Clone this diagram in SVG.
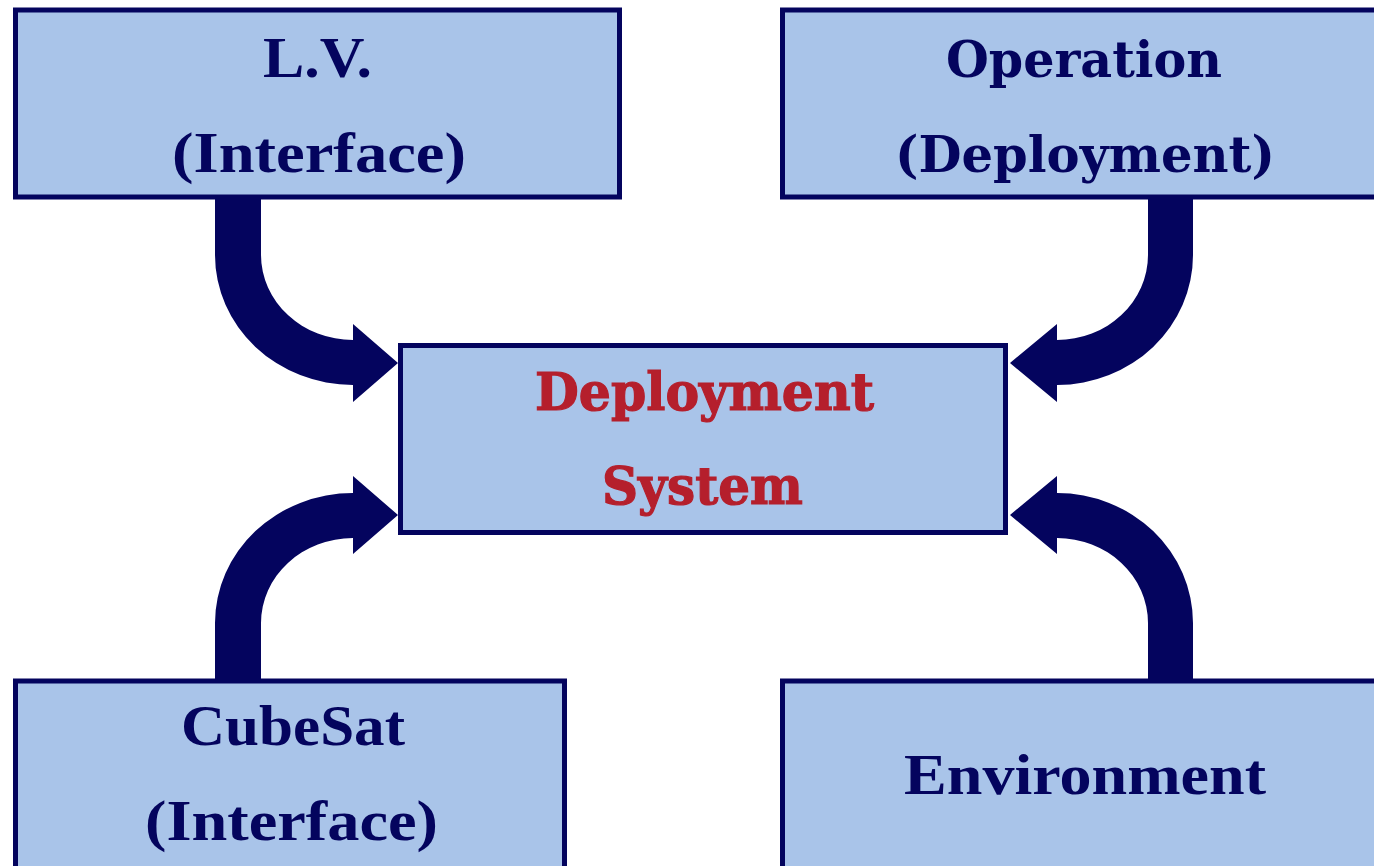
<svg xmlns="http://www.w3.org/2000/svg" width="1374" height="866" viewBox="0 0 1374 866">
<style>
.box{fill:#A9C4E9;stroke:#04045E;stroke-width:5}
.arr{fill:#04045E;stroke:none}
.t{font-family:"Liberation Serif","Times New Roman",serif;font-weight:bold;font-size:57px;fill:#04045E;text-anchor:middle}
.d{font-family:"DejaVu Serif",serif;font-weight:bold;font-size:51px;fill:#04045E;text-anchor:middle}
.r{font-family:"DejaVu Serif",serif;font-weight:bold;font-size:52px;fill:#B51F2C;stroke:#B51F2C;stroke-width:1.2;text-anchor:middle}
</style>
<rect width="1374" height="866" fill="#FFFFFF"/>
<g id="connectors">
<path class="arr" d="M215,197 H261 V255 A92,85 0 0 0 353,340 V324 L398,363 L353,402 V385 A138,130 0 0 1 215,255 Z"/>
<path class="arr" d="M1148,197 H1193 V255 A136,130 0 0 1 1057,385 V402 L1010,363 L1057,324 V340 A91,85 0 0 0 1148,255 Z"/>
<path class="arr" d="M215,681 H261 V623 A92,85 0 0 1 353,538 V554 L398,515 L353,476 V493 A138,130 0 0 0 215,623 Z"/>
<path class="arr" d="M1148,681 H1193 V623 A136,130 0 0 0 1057,493 V476 L1010,515 L1057,554 V538 A91,85 0 0 1 1148,623 Z"/>
</g>
<g id="lv">
<rect class="box" x="15.5" y="10" width="604" height="187"/>
<text class="t" x="317.5" y="77" textLength="109" lengthAdjust="spacingAndGlyphs">L.V.</text>
<text class="t" x="319" y="172" textLength="294" lengthAdjust="spacingAndGlyphs">(Interface)</text>
</g>
<g id="operation">
<rect class="box" x="782.5" y="10" width="700" height="187"/>
<text class="d" x="1084" y="77" textLength="276" lengthAdjust="spacingAndGlyphs">Operation</text>
<text class="d" x="1085" y="172" textLength="380" lengthAdjust="spacingAndGlyphs">(Deployment)</text>
</g>
<g id="deployment-system">
<rect class="box" x="400.5" y="345.5" width="605" height="187"/>
<text class="r" x="704.5" y="410" textLength="339" lengthAdjust="spacingAndGlyphs">Deployment</text>
<text class="r" x="702.5" y="504" textLength="201" lengthAdjust="spacingAndGlyphs">System</text>
</g>
<g id="cubesat">
<rect class="box" x="15.5" y="681" width="549" height="300"/>
<text class="t" x="293" y="745" textLength="224" lengthAdjust="spacingAndGlyphs">CubeSat</text>
<text class="t" x="291.5" y="840" textLength="293" lengthAdjust="spacingAndGlyphs">(Interface)</text>
</g>
<g id="environment">
<rect class="box" x="782.5" y="681" width="700" height="300"/>
<text class="t" x="1085" y="794" textLength="362" lengthAdjust="spacingAndGlyphs">Environment</text>
</g>
</svg>
